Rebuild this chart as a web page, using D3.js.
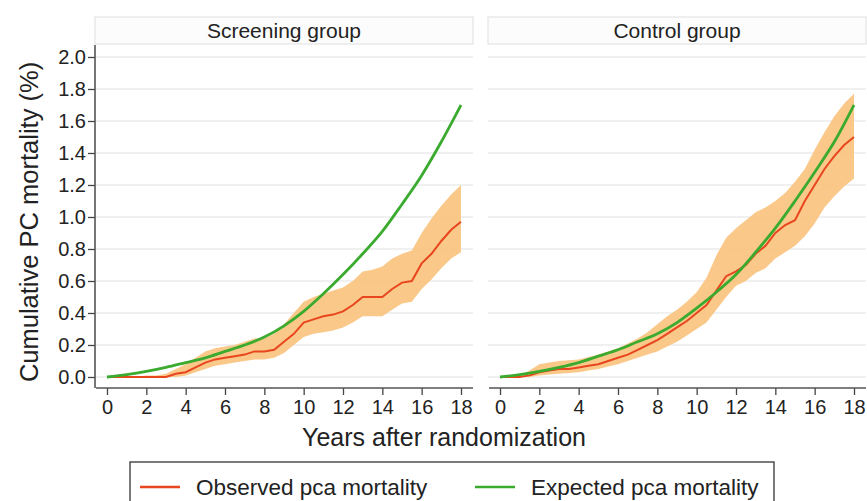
<!DOCTYPE html>
<html>
<head>
<meta charset="utf-8">
<script src="https://cdn.jsdelivr.net/npm/d3@7"></script>
<style>
  body { margin: 0; background: #fff; }
  text { font-family: 'Liberation Sans', Arial, sans-serif; fill: #222; }
</style>
</head>
<body>
<svg width="867" height="501"></svg>
<script>
// half-year grid used by the observed curves and their confidence bands
const halfYears = d3.range(0, 18.01, 0.5);
const fullYears = d3.range(0, 19, 1);

const screeningObserved = [0, 0, 0, 0, 0, 0, 0, 0.02, 0.03, 0.06, 0.09, 0.11, 0.12, 0.13, 0.14, 0.16, 0.16, 0.17,
    0.22, 0.27, 0.34, 0.36, 0.38, 0.39, 0.41, 0.45, 0.50, 0.50, 0.50, 0.55, 0.59, 0.60, 0.71, 0.77, 0.85, 0.92, 0.97];
const screeningLower = [0, 0, 0, 0, 0, 0, 0, 0, 0.01, 0.03, 0.05, 0.07, 0.08, 0.09, 0.10, 0.11, 0.11, 0.12,
    0.15, 0.20, 0.25, 0.27, 0.28, 0.29, 0.31, 0.34, 0.38, 0.38, 0.38, 0.42, 0.46, 0.47, 0.55, 0.61, 0.68, 0.74, 0.78];
const screeningUpper = [0, 0, 0, 0, 0.01, 0.01, 0.02, 0.05, 0.08, 0.12, 0.16, 0.18, 0.19, 0.20, 0.22, 0.24, 0.24, 0.27,
    0.33, 0.40, 0.47, 0.50, 0.52, 0.54, 0.56, 0.60, 0.66, 0.67, 0.69, 0.74, 0.77, 0.79, 0.90, 0.99, 1.07, 1.14, 1.20];
const screeningExpected = [0, 0.015, 0.035, 0.06, 0.09, 0.12, 0.16, 0.20, 0.25, 0.32, 0.41, 0.52, 0.64, 0.77, 0.91,
    1.08, 1.26, 1.47, 1.70];

const controlObserved = [0, 0, 0, 0.01, 0.03, 0.04, 0.05, 0.05, 0.06, 0.07, 0.08, 0.10, 0.12, 0.14, 0.17, 0.20, 0.23, 0.27,
    0.31, 0.35, 0.40, 0.45, 0.54, 0.63, 0.66, 0.70, 0.77, 0.82, 0.90, 0.95, 0.98, 1.10, 1.20, 1.30, 1.38, 1.45, 1.50];
const controlLower = [0, 0, 0, 0, 0.01, 0.015, 0.02, 0.025, 0.03, 0.04, 0.05, 0.065, 0.08, 0.10, 0.12, 0.14, 0.16, 0.19,
    0.22, 0.26, 0.30, 0.34, 0.42, 0.50, 0.57, 0.60, 0.65, 0.68, 0.74, 0.78, 0.82, 0.88, 0.96, 1.06, 1.13, 1.19, 1.24];
const controlUpper = [0, 0, 0.01, 0.04, 0.08, 0.09, 0.10, 0.105, 0.11, 0.125, 0.14, 0.16, 0.18, 0.21, 0.24, 0.28, 0.33, 0.38,
    0.42, 0.47, 0.53, 0.62, 0.76, 0.87, 0.93, 0.98, 1.03, 1.06, 1.10, 1.15, 1.22, 1.30, 1.42, 1.53, 1.63, 1.71, 1.77];
const controlExpected = [0, 0.015, 0.035, 0.06, 0.09, 0.13, 0.17, 0.22, 0.27, 0.34, 0.43, 0.53, 0.64, 0.78, 0.93,
    1.10, 1.28, 1.47, 1.70];

const panelTitles = ['Screening group', 'Control group'];
const xTicks = d3.range(0, 19, 2);
const yTicks = d3.range(0, 2.01, 0.2);
const legendLabels = ['Observed pca mortality', 'Expected pca mortality'];

const obsColor = '#e8461e';
const expColor = '#3aab2e';
const bandColor = '#f9c27c';

const svg = d3.select('svg');

const panelLefts = [95, 488];
const panelWidth = 378;
const stripTop = 17;
const stripHeight = 27;
const plotTop = 45;
const axisY = 388;

const y = d3.scaleLinear().domain([0, 2]).range([377, 57]);

const groups = [
    { obs: screeningObserved, lo: screeningLower, hi: screeningUpper, exp: screeningExpected },
    { obs: controlObserved, lo: controlLower, hi: controlUpper, exp: controlExpected }
];

groups.forEach((grp, i) => {
    const left = panelLefts[i];
    const x = d3.scaleLinear().domain([0, 18]).range([left + 12, left + 366]);
    const g = svg.append('g');

    // gridlines
    g.selectAll('line.grid')
        .data(yTicks)
        .join('line')
        .attr('class', 'grid')
        .attr('x1', left)
        .attr('x2', left + panelWidth)
        .attr('y1', d => y(d))
        .attr('y2', d => y(d))
        .attr('stroke', '#ebebeb')
        .attr('stroke-width', 1.5);

    // strip header
    g.append('rect')
        .attr('x', left)
        .attr('y', stripTop)
        .attr('width', panelWidth)
        .attr('height', stripHeight)
        .attr('fill', '#fcfcfc')
        .attr('stroke', '#e4e4e4')
        .attr('stroke-width', 1.2);

    g.append('text')
        .attr('x', left + panelWidth / 2)
        .attr('y', stripTop + stripHeight / 2 + 7)
        .attr('text-anchor', 'middle')
        .attr('font-size', 21)
        .text(panelTitles[i]);

    // confidence band
    const area = d3.area()
        .x((d, j) => x(halfYears[j]))
        .y0((d, j) => y(grp.lo[j]))
        .y1((d, j) => y(grp.hi[j]));

    g.append('path')
        .attr('d', area(halfYears))
        .attr('fill', bandColor)
        .attr('opacity', 0.9);

    const obsLine = d3.line()
        .x((d, j) => x(halfYears[j]))
        .y(d => y(d));

    g.append('path')
        .attr('d', obsLine(grp.obs))
        .attr('fill', 'none')
        .attr('stroke', obsColor)
        .attr('stroke-width', 2);

    const expLine = d3.line()
        .x((d, j) => x(fullYears[j]))
        .y(d => y(d))
        .curve(d3.curveMonotoneX);

    g.append('path')
        .attr('d', expLine(grp.exp))
        .attr('fill', 'none')
        .attr('stroke', expColor)
        .attr('stroke-width', 2.8);

    // x axis
    const xAxis = g.append('g')
        .attr('transform', `translate(0,${axisY})`)
        .call(d3.axisBottom(x).tickValues(xTicks).tickSize(7).tickPadding(5));
    xAxis.select('.domain').remove();
    xAxis.selectAll('line').attr('stroke', '#444').attr('stroke-width', 1.3);
    xAxis.selectAll('text').attr('font-size', 20).attr('font-family', null);
    xAxis.append('line')
        .attr('x1', left + 1)
        .attr('x2', left + panelWidth)
        .attr('stroke', '#555')
        .attr('stroke-width', 1.6);

    // y axis only on the first panel
    if (i === 0) {
        const yAxis = g.append('g')
            .attr('transform', `translate(${left},0)`)
            .call(d3.axisLeft(y).tickValues(yTicks).tickFormat(d3.format('.1f')).tickSize(7).tickPadding(2));
        yAxis.select('.domain').remove();
        yAxis.selectAll('line').attr('stroke', '#444').attr('stroke-width', 1.3);
        yAxis.selectAll('text').attr('font-size', 20).attr('font-family', null);
        yAxis.append('line')
            .attr('y1', plotTop)
            .attr('y2', axisY)
            .attr('stroke', '#555')
            .attr('stroke-width', 1.6);
    }
});

svg.append('text')
    .attr('transform', 'translate(38,222) rotate(-90)')
    .attr('text-anchor', 'middle')
    .attr('font-size', 25.5)
    .text('Cumulative PC mortality (%)');

svg.append('text')
    .attr('x', 444)
    .attr('y', 446)
    .attr('text-anchor', 'middle')
    .attr('font-size', 25)
    .text('Years after randomization');

// legend
const legend = svg.append('g');
legend.append('rect')
    .attr('x', 130)
    .attr('y', 462)
    .attr('width', 644)
    .attr('height', 60)
    .attr('fill', '#fff')
    .attr('stroke', '#333')
    .attr('stroke-width', 1.3);

const legendX = [140, 475];
[obsColor, expColor].forEach((c, k) => {
    legend.append('line')
        .attr('x1', legendX[k])
        .attr('x2', legendX[k] + 40)
        .attr('y1', 487)
        .attr('y2', 487)
        .attr('stroke', c)
        .attr('stroke-width', 2.5);
    legend.append('text')
        .attr('x', legendX[k] + 56)
        .attr('y', 495)
        .attr('font-size', 22.5)
        .text(legendLabels[k]);
});
</script>
</body>
</html>
